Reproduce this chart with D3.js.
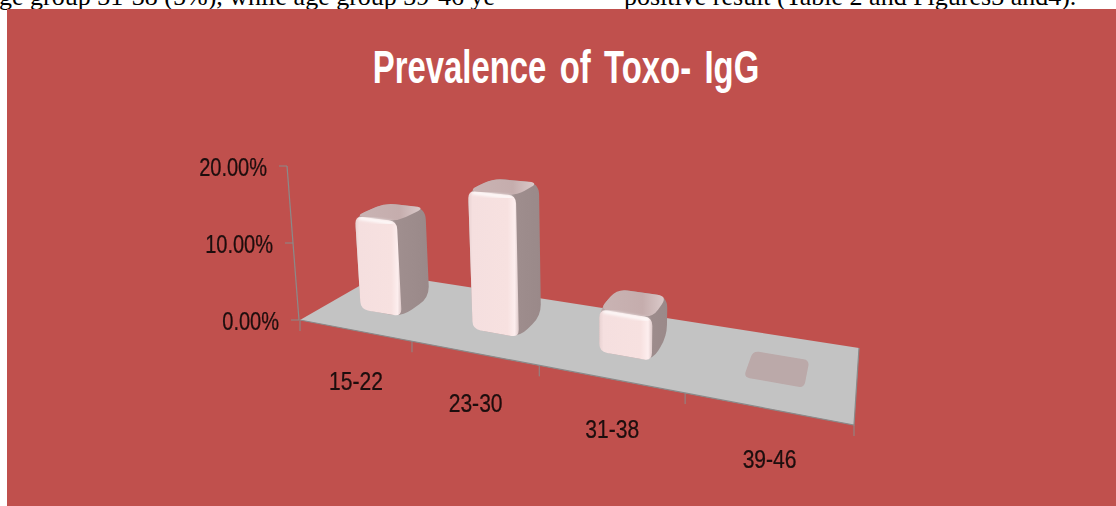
<!DOCTYPE html>
<html lang="en">
<head>
<meta charset="UTF-8">
<title>Prevalence of Toxo- IgG</title>
<script src="https://d3js.org/d3.v7.min.js"></script>
<style>
    html, body { margin: 0; padding: 0; background: #fff; overflow: hidden; }
    .label { font-family: "Liberation Sans", sans-serif; fill: #1c0c0c; font-size: 26px; stroke: #1c0c0c; stroke-width: 0.25px; }
    .title { font-family: "Liberation Sans", sans-serif; font-weight: bold; fill: #fff; font-size: 47px; word-spacing: 6px; }
    .page { font-family: "Liberation Serif", serif; font-size: 26px; fill: #000; }
</style>
</head>
<body>
<svg width="1116" height="506"></svg>
<script>
var categories = ["15-22", "23-30", "31-38", "39-46"];
var values = [12.5, 17.5, 5, 0];
var yTicks = [0, 10, 20];

var svg = d3.select("svg");
var defs = svg.append("defs");

svg.append("rect").attr("x", 7).attr("y", 9).attr("width", 1109).attr("height", 497).attr("fill", "#c0504d");

// clipped line of the surrounding paper
svg.append("text").attr("class", "page").attr("x", -1).attr("y", 5).text("ge group 31-38 (5%), while age group 39-46  ye");
svg.append("text").attr("class", "page").attr("x", 624).attr("y", 5).text("positive result  (Table 2 and Figures3 and4).");
svg.append("rect").attr("x", 7).attr("y", 9).attr("width", 1109).attr("height", 4).attr("fill", "#c0504d");

svg.append("text").attr("class", "title")
   .attr("transform", "translate(566,83) scale(0.7,1)")
   .attr("text-anchor", "middle").text("Prevalence of Toxo- IgG");

// floor corners: front left, front right, back right, back left
var A = [300, 320], B = [854, 425], C = [859, 348], D = [381, 273.5];

var dx1 = B[0] - C[0], dx2 = D[0] - C[0], sx = A[0] - B[0] + C[0] - D[0];
var dy1 = B[1] - C[1], dy2 = D[1] - C[1], sy = A[1] - B[1] + C[1] - D[1];
var den = dx1 * dy2 - dx2 * dy1;
var g = (sx * dy2 - dx2 * sy) / den, h = (dx1 * sy - sx * dy1) / den;
var a = B[0] - A[0] + g * B[0], b = D[0] - A[0] + h * D[0];
var d = B[1] - A[1] + g * B[1], e = D[1] - A[1] + h * D[1];

var xBand = d3.scaleBand().domain(categories).range([0, 1]).paddingInner(0.62).paddingOuter(0.31);
var depth = d3.scaleLinear().domain([0, 1]).range([0.32, 0.7]);
var yScale = d3.scaleLinear().domain([0, 20]).range([0, 154]);
var tickScale = d3.scaleBand().domain(categories).range([0, 1]);

function project(u, v, val) {
    var w = g * u + h * v + 1;
    var x = (a * u + b * v + A[0]) / w;
    var y = (d * u + e * v + A[1]) / w;
    var up = yScale(val) / w;
    return [x + (x - 600) * up / 3860, y - up];
}

function rounded(pts, r) {
    var p = d3.path();
    pts.forEach(function(pt, i) {
        var prev = pts[(i + pts.length - 1) % pts.length], next = pts[(i + 1) % pts.length];
        var l1 = Math.hypot(prev[0] - pt[0], prev[1] - pt[1]), l2 = Math.hypot(next[0] - pt[0], next[1] - pt[1]);
        var r1 = Math.min(r, l1 / 2), r2 = Math.min(r, l2 / 2);
        var s = [pt[0] + (prev[0] - pt[0]) * r1 / l1, pt[1] + (prev[1] - pt[1]) * r1 / l1];
        var t = [pt[0] + (next[0] - pt[0]) * r2 / l2, pt[1] + (next[1] - pt[1]) * r2 / l2];
        if (i === 0) p.moveTo(s[0], s[1]); else p.lineTo(s[0], s[1]);
        p.quadraticCurveTo(pt[0], pt[1], t[0], t[1]);
    });
    p.closePath();
    return p.toString();
}

function gradient(id, stops) {
    var grad = defs.append("linearGradient").attr("id", id);
    stops.forEach(function(s) {
        grad.append("stop").attr("offset", s[0]).attr("stop-color", s[1]);
    });
}
gradient("front", [[0, "#e8d2d2"], [0.08, "#f5dfdf"], [0.78, "#f7e1e0"], [0.92, "#fdeeee"], [1, "#dcc8c8"]]);
gradient("side", [[0, "#bda9a9"], [0.3, "#a39292"], [1, "#9a8989"]]);
gradient("topFace", [[0, "#c9b3b3"], [0.65, "#c5adad"], [1, "#dac9c9"]]);

defs.append("filter").attr("id", "soft").append("feGaussianBlur").attr("stdDeviation", 0.6);
defs.append("filter").attr("id", "softer").append("feGaussianBlur").attr("stdDeviation", 1.6);
defs.append("filter").attr("id", "textSoft").append("feGaussianBlur").attr("stdDeviation", 0.45);

// floor
svg.append("path").attr("d", d3.line()([A, B, C, D]) + "Z").attr("fill", "#c3c3c3");
svg.append("path").attr("d", d3.line()([A, B, C])).attr("fill", "none").attr("stroke", "#8a8a8a").attr("stroke-width", 1.2);

// category ticks under the front edge
var tickU = categories.map(function(c) { return tickScale(c); }).concat([1]);
svg.selectAll(".ctick").data(tickU).join("line").attr("class", "ctick")
   .attr("x1", function(u) { return project(u, 0, 0)[0]; })
   .attr("y1", function(u) { return project(u, 0, 0)[1]; })
   .attr("x2", function(u) { return project(u, 0, 0)[0]; })
   .attr("y2", function(u) { return project(u, 0, 0)[1] + 11; })
   .attr("stroke", "#8a8a8a");

// value axis
var axisX = d3.scaleLinear().domain([0, 20]).range([299, 287]);
var axisY = d3.scaleLinear().domain([0, 20]).range([320, 166]);
svg.append("line").attr("x1", axisX(0)).attr("y1", axisY(0)).attr("x2", axisX(20)).attr("y2", axisY(20)).attr("stroke", "#8a8a8a").attr("stroke-width", 1.2);
svg.selectAll(".ytick").data(yTicks).join("line").attr("class", "ytick")
   .attr("x1", function(t) { return axisX(t) - 8; }).attr("x2", function(t) { return axisX(t); })
   .attr("y1", function(t) { return axisY(t); }).attr("y2", function(t) { return axisY(t); })
   .attr("stroke", "#8a8a8a");
svg.selectAll(".ylabel").data(yTicks).join("text").attr("class", "label")
   .attr("transform", function(t) { return "translate(" + (axisX(t) - 20) + "," + (axisY(t) + 10) + ") scale(0.77,1)"; })
   .attr("text-anchor", "end")
   .attr("filter", "url(#textSoft)")
   .text(function(t) { return d3.format(".2f")(t) + "%"; });

// bars
categories.forEach(function(cat, i) {
    var u0 = xBand(cat), u1 = u0 + xBand.bandwidth(), val = values[i];
    var v0 = depth(0), v1 = depth(1);
    var bl = project(u0, v0, 0), br = project(u1, v0, 0), bbr = project(u1, v1, 0), bbl = project(u0, v1, 0);
    var tl = project(u0, v0, val), tr = project(u1, v0, val), btr = project(u1, v1, val), btl = project(u0, v1, val);
    var bar = svg.append("g").attr("filter", "url(#soft)");

    if (val === 0) {
        bar.append("path").attr("d", rounded([bl, br, bbr, bbl], 6)).attr("fill", "#bba9a9");
        return;
    }
    bar.append("path").attr("d", rounded([bl, br, bbr, btr, btl, tl], 12)).attr("fill", "url(#side)");
    bar.append("path").attr("d", rounded([tl, tr, btr, btl], 10)).attr("fill", "url(#topFace)");
    bar.append("path").attr("d", rounded([bl, br, tr, tl], 8)).attr("fill", "url(#front)");
    // bevel along the top edge of the front face
    svg.append("path").attr("d", d3.line()([[tl[0] + 4, tl[1] + 2], [tr[0] - 4, tr[1] + 2]]))
       .attr("stroke", "#fff").attr("stroke-width", 3).attr("fill", "none").attr("filter", "url(#softer)");
});

// category labels, centred on their tick cells below the front edge
svg.selectAll(".xlabel").data(categories).join("text").attr("class", "label")
   .attr("transform", function(c) {
       var l = project(tickScale(c), 0, 0), r = project(tickScale(c) + tickScale.bandwidth(), 0, 0);
       return "translate(" + ((l[0] + r[0]) / 2) + "," + ((l[1] + r[1]) / 2 + 59) + ") scale(0.81,1)";
   })
   .attr("text-anchor", "middle")
   .attr("filter", "url(#textSoft)")
   .text(function(c) { return c; });
</script>
</body>
</html>
